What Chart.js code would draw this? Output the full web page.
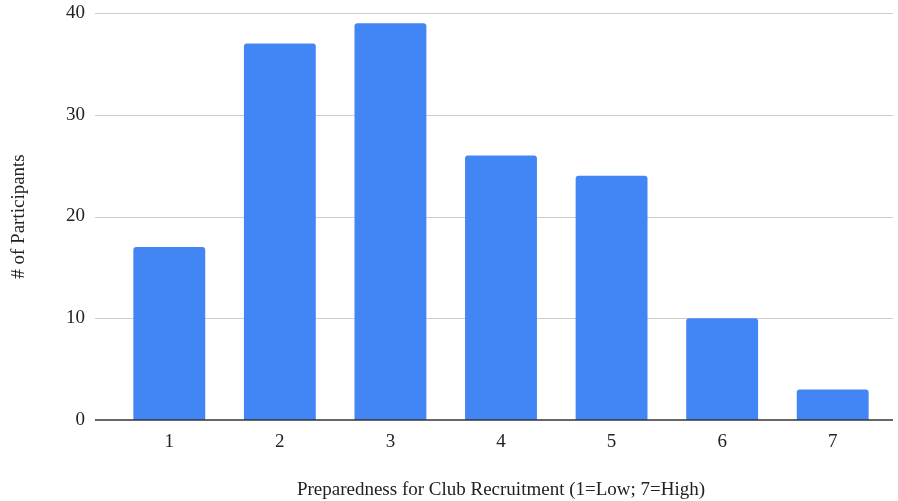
<!DOCTYPE html>
<html>
<head>
<meta charset="utf-8">
<script src="https://cdn.jsdelivr.net/npm/chart.js@4/dist/chart.umd.min.js"></script>
<style>
  html, body { margin: 0; padding: 0; background: #fff; }
  #wrap { width: 898px; height: 501px; position: relative; }
</style>
</head>
<body>
<div id="wrap"><canvas id="c" width="898" height="501"></canvas></div>
<script>
// Preparedness ratings and participant counts
const categories = ['1', '2', '3', '4', '5', '6', '7'];
const participants = [17, 37, 39, 26, 24, 10, 3];
const yTicks = [0, 10, 20, 30, 40];

const FONT = "'Liberation Serif', 'DejaVu Serif', serif";
const TEXT = '#222222';

// Horizontal gridlines that run a little past the plot area, plus the dark baseline
const gridPlugin = {
  id: 'sheetGrid',
  beforeDatasetsDraw(chart) {
    const { ctx, chartArea, scales } = chart;
    ctx.save();
    ctx.strokeStyle = '#cccccc';
    ctx.lineWidth = 1;
    yTicks.forEach(v => {
      if (v === 0) return;
      const y = Math.round(scales.y.getPixelForValue(v)) + 0.5;
      ctx.beginPath();
      ctx.moveTo(chartArea.left - 19, y);
      ctx.lineTo(chartArea.right + 5, y);
      ctx.stroke();
    });
    ctx.restore();
  },
  afterDatasetsDraw(chart) {
    const { ctx, chartArea, scales } = chart;
    const y = scales.y.getPixelForValue(0);
    ctx.save();
    ctx.strokeStyle = '#333333';
    ctx.lineWidth = 1.6;
    ctx.beginPath();
    ctx.moveTo(chartArea.left - 19, y);
    ctx.lineTo(chartArea.right + 5, y);
    ctx.stroke();
    ctx.restore();
  }
};

new Chart(document.getElementById('c'), {
  type: 'bar',
  data: {
    labels: categories,
    datasets: [{
      data: participants,
      backgroundColor: '#4285F4',
      borderWidth: 0,
      borderRadius: { topLeft: 3, topRight: 3, bottomLeft: 0, bottomRight: 0 },
      borderSkipped: 'bottom',
      categoryPercentage: 1.0,
      barPercentage: 0.65
    }]
  },
  options: {
    responsive: false,
    animation: false,
    devicePixelRatio: 1,
    layout: { padding: { top: 13, right: 10, bottom: 0, left: 0 } },
    plugins: {
      legend: { display: false },
      tooltip: { enabled: false }
    },
    scales: {
      x: {
        grid: { display: false, drawTicks: false },
        border: { display: false },
        ticks: { color: TEXT, font: { family: FONT, size: 19 }, padding: 11 },
        title: {
          display: true,
          text: 'Preparedness for Club Recruitment (1=Low; 7=High)',
          color: TEXT,
          font: { family: FONT, size: 19 },
          padding: { top: 0, bottom: 0 }
        },
        afterFit(scale) { scale.height = 81; }
      },
      y: {
        min: 0,
        max: 40,
        afterBuildTicks(scale) { scale.ticks = yTicks.map(v => ({ value: v })); },
        grid: { display: false, drawTicks: false },
        border: { display: false },
        ticks: { color: TEXT, font: { family: FONT, size: 19 }, padding: 29 },
        title: {
          display: true,
          text: '# of Participants',
          color: TEXT,
          font: { family: FONT, size: 19 },
          padding: { top: 8, bottom: 0 }
        },
        afterFit(scale) {
          scale.width = 114;
          scale.paddingTop = 0;
          scale.paddingBottom = 0;
        }
      }
    }
  },
  plugins: [gridPlugin]
});
</script>
</body>
</html>
